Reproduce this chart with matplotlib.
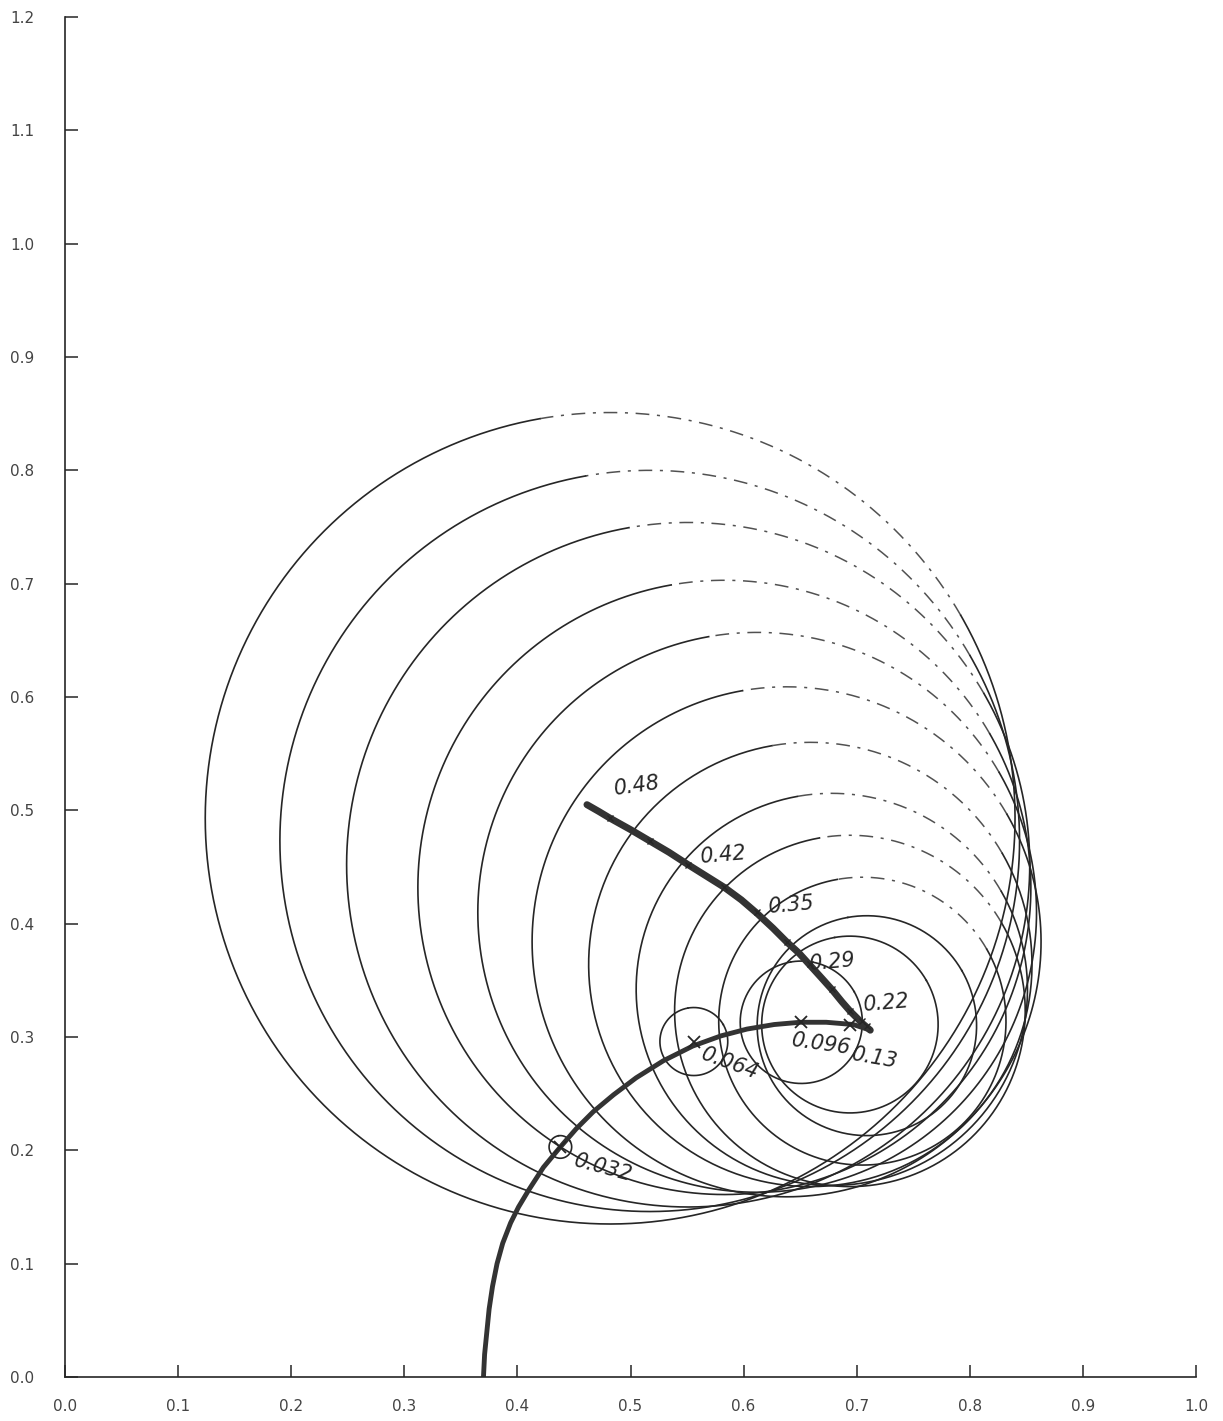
import numpy as np
import matplotlib
matplotlib.use("Agg")
import matplotlib.pyplot as plt

# circle family: parameter value, centre and radius
params = [0.032, 0.064, 0.096, 0.128, 0.16, 0.192, 0.224, 0.256, 0.288,
          0.32, 0.352, 0.384, 0.416, 0.448, 0.48]
cx = [0.438, 0.556, 0.651, 0.694, 0.709, 0.705, 0.694, 0.678, 0.659,
      0.638, 0.612, 0.583, 0.551, 0.517, 0.482]
cy = [0.203, 0.296, 0.313, 0.311, 0.310, 0.314, 0.323, 0.342, 0.364,
      0.384, 0.410, 0.432, 0.452, 0.473, 0.493]
radius = [0.010, 0.030, 0.054, 0.078, 0.097, 0.127, 0.155, 0.173, 0.196,
          0.225, 0.247, 0.271, 0.302, 0.327, 0.358]

# thick locus curves
upper_x = [0.4615, 0.472, 0.482, 0.500, 0.517, 0.534, 0.551, 0.567, 0.583,
           0.598, 0.612, 0.626, 0.638, 0.649, 0.659, 0.669, 0.678, 0.687,
           0.694, 0.700, 0.705, 0.712]
upper_y = [0.505, 0.499, 0.493, 0.483, 0.473, 0.463, 0.452, 0.442, 0.432,
           0.421, 0.409, 0.396, 0.384, 0.374, 0.363, 0.352, 0.342, 0.331,
           0.323, 0.317, 0.312, 0.306]
lower_x = [0.370, 0.371, 0.373, 0.375, 0.378, 0.382, 0.387, 0.394, 0.401,
           0.410, 0.423, 0.438, 0.452, 0.467, 0.485, 0.505, 0.529, 0.555,
           0.580, 0.603, 0.627, 0.650, 0.673, 0.697, 0.709]
lower_y = [0.000, 0.020, 0.040, 0.060, 0.080, 0.100, 0.118, 0.136, 0.150,
           0.165, 0.185, 0.203, 0.219, 0.234, 0.249, 0.264, 0.279, 0.292,
           0.301, 0.307, 0.311, 0.313, 0.313, 0.311, 0.307]

# hand written labels
labels = ["0.48", "0.42", "0.35", "0.29", "0.22", "0.13", "0.096", "0.064", "0.032"]
label_x = [0.484, 0.561, 0.621, 0.657, 0.705, 0.694, 0.641, 0.560, 0.448]
label_y = [0.510, 0.450, 0.406, 0.356, 0.319, 0.294, 0.306, 0.294, 0.200]
label_rot = [8, 5, 5, 5, 5, -10, -8, -20, -15]
label_va = ["bottom"] * 5 + ["top"] * 4

xticks = np.arange(0, 1.01, 0.1)
yticks = np.arange(0, 1.21, 0.1)

ink = "#262626"

fig = plt.figure(figsize=(12.23, 14.21), dpi=100)
ax = fig.add_axes([65 / 1223, 44 / 1421, 1131 / 1223, 1360 / 1421])

# circles: lower/left part solid, faded upper-right part dashed
for x0, y0, r in zip(cx, cy, radius):
    t1 = np.radians(np.linspace(100, 390, 400))
    ax.plot(x0 + r * np.cos(t1), y0 + r * np.sin(t1), color=ink, lw=1.2)
    t2 = np.radians(np.linspace(30, 100, 150))
    if r > 0.12:
        ax.plot(x0 + r * np.cos(t2), y0 + r * np.sin(t2), color=ink, lw=1.1,
                alpha=0.8, linestyle=(0, (9, 5, 2, 5)))
    else:
        ax.plot(x0 + r * np.cos(t2), y0 + r * np.sin(t2), color=ink, lw=1.2)

ax.plot(upper_x, upper_y, color="#333333", lw=5, solid_capstyle="round",
        solid_joinstyle="round")
ax.plot(lower_x, lower_y, color="#333333", lw=3.5, solid_capstyle="round",
        solid_joinstyle="round")

ax.plot(cx[:4], cy[:4], "x", color=ink, ms=8, mew=1.3)
ax.plot(cx[4:], cy[4:], "x", color=ink, ms=5, mew=1.0)

for s, x, y, rot, va in zip(labels, label_x, label_y, label_rot, label_va):
    ax.text(x, y, s, fontsize=15, fontstyle="italic", rotation=rot,
            ha="left", va=va, color=ink)

ax.set_xlim(0, 1)
ax.set_ylim(0, 1.2)
ax.set_xticks(xticks)
ax.set_yticks(yticks)
ax.set_xticklabels([f"{v:.1f}" for v in xticks])
ax.set_yticklabels([f"{v:.1f}" for v in yticks])
ax.tick_params(direction="in", length=9, width=1.1, colors=ink,
               labelsize=11, labelcolor="#444444")
ax.tick_params(axis="x", pad=16)
ax.tick_params(axis="y", pad=22)
ax.spines["top"].set_visible(False)
ax.spines["right"].set_visible(False)
ax.spines["left"].set_color(ink)
ax.spines["bottom"].set_color(ink)
ax.spines["left"].set_linewidth(1.2)
ax.spines["bottom"].set_linewidth(1.2)

plt.savefig("out.png", dpi=100)
